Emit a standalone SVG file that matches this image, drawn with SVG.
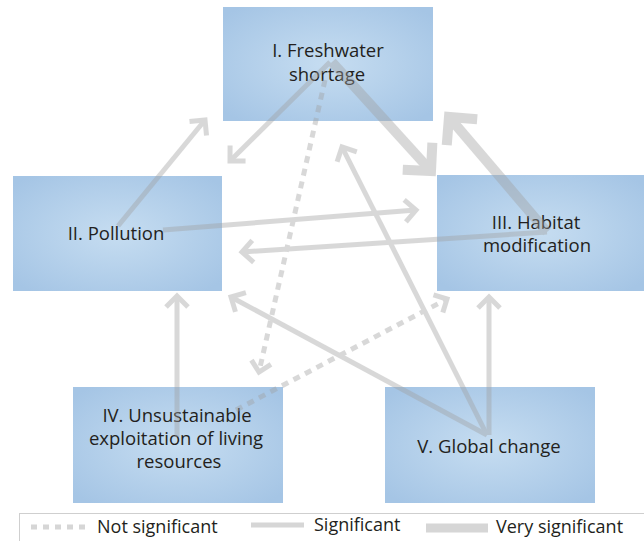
<svg xmlns="http://www.w3.org/2000/svg" width="644" height="541" viewBox="0 0 644 541">
<defs>
<radialGradient id="bg" cx="50%" cy="50%" r="65%">
<stop offset="0" stop-color="#c6ddf1"/>
<stop offset="1" stop-color="#a5c5e5"/>
</radialGradient>
<marker id="ah" markerUnits="userSpaceOnUse" orient="auto" refX="0" refY="0" markerWidth="40" markerHeight="40" viewBox="-20 -20 40 40" overflow="visible">
<path d="M-11,-11 L0,0 L-11,11" fill="none" stroke="#a0a0a0" stroke-width="5"/>
</marker>
<marker id="ahd" markerUnits="userSpaceOnUse" orient="auto" refX="0" refY="0" markerWidth="40" markerHeight="40" viewBox="-20 -20 40 40" overflow="visible">
<path d="M-10,-10 L0,0 L-10,10" fill="none" stroke="#a0a0a0" stroke-width="5"/>
</marker>
<marker id="ahb" markerUnits="userSpaceOnUse" orient="auto" refX="0" refY="0" markerWidth="60" markerHeight="60" viewBox="-30 -30 60 60" overflow="visible">
<path d="M-20,-20 L0,0 L-20,20" fill="none" stroke="#a0a0a0" stroke-width="10"/>
</marker>
</defs>
<style>
.box{fill:url(#bg)}
.t{font-family:"Open Sans","Noto Sans",sans-serif;font-size:18.5px;fill:#231f20;text-anchor:middle}
.lt{font-family:"Open Sans","Noto Sans",sans-serif;font-size:18px;fill:#231f20}
.s{fill:none;stroke:#a0a0a0;stroke-width:5;marker-end:url(#ah)}
.v{fill:none;stroke:#a0a0a0;stroke-width:10;marker-end:url(#ahb)}
.d{fill:none;stroke:#a0a0a0;stroke-width:5;stroke-dasharray:7 6;marker-end:url(#ahd)}
</style>
<g id="n1"><rect class="box" x="223" y="7" width="210" height="114"/><text class="t" x="328" y="57">I. Freshwater</text><text class="t" x="327" y="81">shortage</text></g>
<g id="n2"><rect class="box" x="13" y="176" width="209" height="115"/><text class="t" x="116" y="240">II. Pollution</text></g>
<g id="n3"><rect class="box" x="437" y="175" width="207" height="116"/><text class="t" x="536" y="229">III. Habitat</text><text class="t" x="537" y="252">modification</text></g>
<g id="n4"><rect class="box" x="73" y="387" width="210" height="116"/><text class="t" x="177" y="422">IV. Unsustainable</text><text class="t" x="176" y="445">exploitation of living</text><text class="t" x="179" y="468">resources</text></g>
<g id="n5"><rect class="box" x="385" y="387" width="210" height="116"/><text class="t" x="489" y="453">V. Global change</text></g>
<g id="connectors" opacity="0.4">
<line class="s" x1="118" y1="226" x2="205" y2="120"/>
<line class="s" x1="330" y1="62" x2="230" y2="161"/>
<line class="v" x1="332" y1="62" x2="431" y2="171"/>
<line class="v" x1="547" y1="232" x2="449" y2="117"/>
<line class="s" x1="163" y1="230" x2="416" y2="210"/>
<line class="s" x1="547" y1="232" x2="242" y2="252"/>
<line class="d" x1="325" y1="80" x2="259" y2="372"/>
<line class="d" x1="236" y1="410" x2="447" y2="299"/>
<line class="s" x1="177" y1="437" x2="177" y2="296"/>
<line class="s" x1="487" y1="435" x2="231" y2="297"/>
<line class="s" x1="487" y1="435" x2="342" y2="147"/>
<line class="s" x1="489" y1="435" x2="489" y2="297"/>
</g>
<g id="legend">
<rect x="19.5" y="513.5" width="640" height="40" fill="none" stroke="#cfcfcf" stroke-width="1"/>
<line x1="31" y1="527" x2="89" y2="527" stroke="#d6d6d6" stroke-width="5" stroke-dasharray="6 6"/>
<text class="lt" x="97" y="533">Not significant</text>
<line x1="251" y1="525" x2="304" y2="525" stroke="#d6d6d6" stroke-width="5"/>
<text class="lt" x="314" y="531">Significant</text>
<line x1="426" y1="528" x2="488" y2="528" stroke="#d6d6d6" stroke-width="9"/>
<text class="lt" x="496" y="533">Very significant</text>
</g>
</svg>
